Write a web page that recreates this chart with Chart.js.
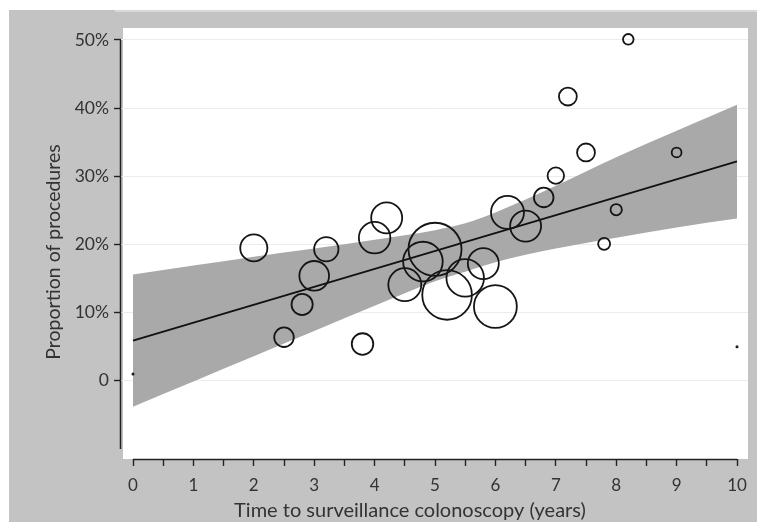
<!DOCTYPE html>
<html lang="en">
<head>
<meta charset="utf-8">
<title>Proportion of procedures by time to surveillance colonoscopy</title>
<script src="https://cdn.jsdelivr.net/npm/chart.js@4.4.1/dist/chart.umd.min.js"></script>
<style>
  html, body { margin: 0; padding: 0; background: #fff; }
  #wrap { width: 757px; height: 522px; }
</style>
</head>
<body>
<div id="wrap"><canvas id="myChart" width="757" height="522"></canvas></div>
<script>
// Bubbles: time to surveillance (years), proportion of procedures (%), relative weight
const years = [0, 2.0, 2.5, 2.8, 3.0, 3.2, 3.8, 4.0, 4.2, 4.5, 4.8, 5.0, 5.2, 5.5, 5.8, 6.0, 6.2, 6.5, 6.8, 7.0, 7.2, 7.5, 7.8, 8.0, 8.2, 9.0, 10];
const proportions = [1.0, 19.5, 6.4, 11.2, 15.4, 19.3, 5.4, 21.0, 23.9, 14.1, 17.5, 19.3, 12.6, 15.1, 17.2, 10.9, 24.7, 22.7, 26.9, 30.1, 41.7, 33.5, 20.1, 25.1, 50.1, 33.5, 5.0];
const weights = [0.1, 46, 24, 28, 55, 37, 29, 62, 60, 68, 98, 176, 154, 88, 60, 115, 68, 60, 24, 17, 20, 20, 9, 8, 7, 6, 0.1];

// Fitted line and its confidence band
const fitYears = [0, 10];
const fitValues = [5.9, 32.2];
const ciYears = [0, 1, 2, 3, 4, 5, 5.5, 6, 7, 8, 9, 10];
const ciUpper = [15.6, 16.9, 18.2, 19.4, 20.7, 22.1, 23.1, 24.7, 28.6, 32.8, 36.7, 40.5];
const ciLower = [-3.8, -0.1, 3.6, 7.3, 11.0, 14.6, 16.0, 17.4, 19.4, 21.0, 22.5, 23.8];

// Axis ticks
const xTicks = [0, 0.5, 1, 1.5, 2, 2.5, 3, 3.5, 4, 4.5, 5, 5.5, 6, 6.5, 7, 7.5, 8, 8.5, 9, 9.5, 10];
const xTickLabels = ['0', '', '1', '', '2', '', '3', '', '4', '', '5', '', '6', '', '7', '', '8', '', '9', '', '10'];
const yTicks = [0, 10, 20, 30, 40, 50];
const yTickLabels = ['0', '10%', '20%', '30%', '40%', '50%'];

Chart.defaults.font.family = 'Lato, "Open Sans", sans-serif';
Chart.defaults.color = '#333';

// grey page, white panel, axis lines and titles
const frame = {
  id: 'frame',
  beforeDraw(chart) {
    const { ctx, chartArea: a } = chart;
    ctx.save();
    ctx.fillStyle = '#c3c3c3';
    ctx.fillRect(9, 10, 748, 512);
    ctx.fillStyle = '#d8d8d8';
    ctx.fillRect(115, 10, 642, 2);
    ctx.fillStyle = '#fff';
    ctx.fillRect(a.left + 2, a.top, a.right - a.left - 2, a.bottom - a.top);
    ctx.restore();
  },
  afterDraw(chart) {
    const { ctx, chartArea: a, scales } = chart;
    ctx.save();
    ctx.strokeStyle = '#222';
    ctx.lineWidth = 1.5;
    ctx.beginPath();
    ctx.moveTo(a.left - 0.5, scales.y.getPixelForValue(50));
    ctx.lineTo(a.left - 0.5, scales.y.getPixelForValue(-10));
    ctx.moveTo(scales.x.getPixelForValue(0), a.bottom + 0.5);
    ctx.lineTo(scales.x.getPixelForValue(10), a.bottom + 0.5);
    ctx.stroke();

    ctx.fillStyle = '#333';
    ctx.textAlign = 'center';
    ctx.textBaseline = 'middle';
    ctx.font = '20px Lato, "Open Sans", sans-serif';
    ctx.fillText('Time to surveillance colonoscopy (years)', 410, 511);
    ctx.font = '19.5px Lato, "Open Sans", sans-serif';
    ctx.translate(54, 252);
    ctx.rotate(-Math.PI / 2);
    ctx.fillText('Proportion of procedures', 0, 0);
    ctx.restore();
  }
};

const ctx = document.getElementById('myChart').getContext('2d');
new Chart(ctx, {
  type: 'bubble',
  data: {
    datasets: [
      {
        type: 'bubble',
        label: 'Procedures',
        data: years.map((x, i) => ({ x: x, y: proportions[i], r: 2 * Math.sqrt(weights[i]) })),
        backgroundColor: 'rgba(0,0,0,0)',
        borderColor: '#151515',
        borderWidth: 1.8,
        hoverRadius: 0,
        clip: false,
        order: 0
      },
      {
        type: 'line',
        label: 'Fit',
        data: fitYears.map((x, i) => ({ x: x, y: fitValues[i] })),
        borderColor: '#111',
        borderWidth: 1.7,
        pointRadius: 0,
        fill: false,
        order: 1
      },
      {
        type: 'line',
        label: 'CI upper',
        data: ciYears.map((x, i) => ({ x: x, y: ciUpper[i] })),
        borderWidth: 0,
        borderColor: 'rgba(0,0,0,0)',
        backgroundColor: '#a9a9a9',
        pointRadius: 0,
        cubicInterpolationMode: 'monotone',
        fill: '+1',
        order: 2
      },
      {
        type: 'line',
        label: 'CI lower',
        data: ciYears.map((x, i) => ({ x: x, y: ciLower[i] })),
        borderWidth: 0,
        borderColor: 'rgba(0,0,0,0)',
        pointRadius: 0,
        cubicInterpolationMode: 'monotone',
        fill: false,
        order: 3
      }
    ]
  },
  plugins: [frame],
  options: {
    responsive: false,
    animation: false,
    devicePixelRatio: 1,
    layout: { autoPadding: false, padding: { top: 28, right: 9, left: 0, bottom: 0 } },
    plugins: {
      legend: { display: false },
      tooltip: { enabled: false }
    },
    scales: {
      x: {
        type: 'linear',
        min: -0.1987,
        max: 10.182,
        afterFit: s => { s.height = 63; s.paddingLeft = 0; s.paddingRight = 0; },
        afterBuildTicks: s => { s.ticks = xTicks.map(v => ({ value: v })); },
        border: { display: false },
        grid: { drawOnChartArea: false, drawTicks: true, tickLength: 7, tickColor: '#222', tickWidth: 1.4 },
        ticks: {
          autoSkip: false,
          maxRotation: 0,
          padding: 9,
          font: { size: 17 },
          color: '#333',
          callback: (v, i) => xTickLabels[i]
        }
      },
      y: {
        type: 'linear',
        min: -11.47,
        max: 51.76,
        afterFit: s => { s.width = 121; s.paddingTop = 0; s.paddingBottom = 0; },
        afterBuildTicks: s => { s.ticks = yTicks.map(v => ({ value: v })); },
        border: { display: false },
        grid: { color: '#ececec', lineWidth: 1, drawTicks: true, tickLength: 7, tickColor: '#222', tickWidth: 1.4 },
        ticks: {
          padding: 5,
          font: { size: 17.5 },
          color: '#333',
          callback: (v, i) => yTickLabels[i]
        }
      }
    }
  }
});
</script>
</body>
</html>
